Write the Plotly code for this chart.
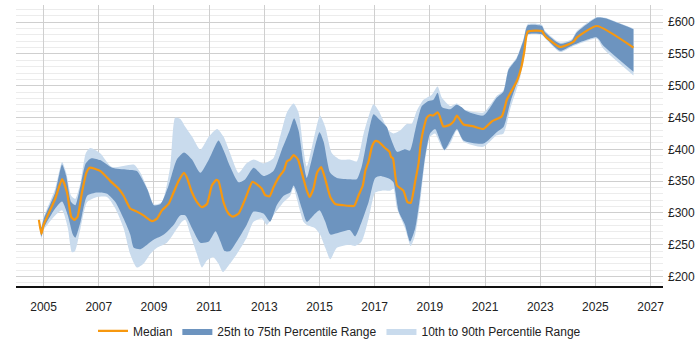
import plotly.graph_objects as go

MED_X = [2004.83, 2004.92, 2005.0, 2005.42, 2005.67, 2005.85, 2006.0, 2006.11, 2006.23, 2006.39,
         2006.55, 2006.67, 2007.05, 2007.42, 2007.72, 2007.90, 2008.14, 2008.38, 2008.62, 2008.93,
         2009.11, 2009.29, 2009.53, 2009.71, 2009.89, 2010.09, 2010.20, 2010.38, 2010.56, 2010.74,
         2010.92, 2011.10, 2011.26, 2011.34, 2011.52, 2011.70, 2011.85, 2012.07, 2012.31, 2012.57,
         2012.73, 2012.91, 2013.03, 2013.19, 2013.33, 2013.51, 2013.72, 2013.82, 2013.94, 2014.06,
         2014.22, 2014.36, 2014.52, 2014.64, 2014.78, 2014.91, 2015.06, 2015.21, 2015.39, 2015.57,
         2015.87, 2016.11, 2016.26, 2016.41, 2016.57, 2016.66, 2016.78, 2016.90, 2017.02, 2017.14,
         2017.38, 2017.54, 2017.59, 2017.66, 2017.81, 2018.04, 2018.19, 2018.31, 2018.47, 2018.59,
         2018.67, 2018.77, 2018.89, 2019.01, 2019.11, 2019.28, 2019.35, 2019.49, 2019.74, 2019.86,
         2019.98, 2020.10, 2020.22, 2020.58, 2020.94, 2021.25, 2021.61, 2021.79, 2022.15, 2022.33,
         2022.42, 2022.55, 2023.06, 2023.18, 2023.72, 2024.20, 2024.33, 2025.05, 2026.38]
MED_Y = [289, 267, 281, 322, 353, 332, 294, 289, 294, 332,
         363, 371, 366, 350, 338, 327, 307, 302, 296, 287,
         291, 304, 314, 332, 350, 363, 355, 332, 317, 309,
         314, 343, 352, 350, 317, 299, 294, 299, 322, 349,
         345, 338, 328, 326, 340, 355, 368, 381, 384, 391,
         384, 363, 338, 325, 338, 363, 372, 353, 325, 314,
         312, 311, 311, 327, 343, 366, 381, 404, 413, 412,
         402, 396, 388, 386, 343, 335, 317, 316, 350, 378,
         409, 432, 450, 454, 453, 458, 453, 436, 439, 444,
         453, 446, 439, 436, 432, 444, 452, 478, 507, 532,
         553, 585, 586, 578, 561, 569, 576, 594, 560]

P75_X = [2004.83, 2004.92, 2005.0, 2005.42, 2005.67, 2005.82, 2006.0, 2006.15, 2006.34, 2006.53,
         2006.73, 2007.05, 2007.48, 2008.03, 2008.38, 2008.75, 2009.0, 2009.24, 2009.53, 2009.83,
         2010.09, 2010.38, 2010.68, 2010.99, 2011.34, 2011.52, 2011.76, 2012.07, 2012.31, 2012.61,
         2012.97, 2013.33, 2013.63, 2013.92, 2014.08, 2014.24, 2014.42, 2014.54, 2014.72, 2015.0,
         2015.15, 2015.39, 2015.63, 2016.1, 2016.35, 2016.53, 2016.72, 2016.96, 2017.14, 2017.44,
         2017.56, 2017.81, 2018.10, 2018.28, 2018.47, 2018.71, 2018.95, 2019.13, 2019.28, 2019.44,
         2019.74, 2019.96, 2020.16, 2020.28, 2020.94, 2021.42, 2021.67, 2021.85, 2022.15, 2022.39,
         2022.55, 2023.06, 2023.18, 2023.72, 2024.14, 2024.33, 2025.05, 2025.35, 2026.38]
P75_Y = [290, 277, 290, 332, 376, 358, 317, 312, 343, 378,
         386, 383, 371, 368, 366, 338, 312, 314, 343, 384,
         395, 384, 363, 384, 414, 399, 373, 348, 353, 371,
         358, 366, 399, 430, 449, 430, 378, 355, 384, 427,
         412, 363, 355, 353, 353, 373, 414, 455, 448, 435,
         420, 396, 400, 398, 430, 468, 476, 478, 489, 466,
         463, 470, 466, 461, 453, 481, 491, 525, 543, 571,
         595, 594, 584, 566, 571, 584, 607, 606, 589]

P25_X = [2004.83, 2004.92, 2005.0, 2005.42, 2005.67, 2005.88, 2006.06, 2006.15, 2006.34, 2006.58,
         2006.94, 2007.30, 2007.60, 2007.90, 2008.14, 2008.27, 2008.51, 2008.75, 2009.0, 2009.36,
         2009.71, 2009.95, 2010.14, 2010.38, 2010.68, 2010.99, 2011.23, 2011.41, 2011.56, 2011.76,
         2012.0, 2012.36, 2012.61, 2012.97, 2013.21, 2013.45, 2013.70, 2013.94, 2014.06, 2014.18,
         2014.36, 2014.54, 2014.78, 2015.0, 2015.21, 2015.39, 2015.63, 2016.1, 2016.29, 2016.53,
         2016.78, 2017.02, 2017.20, 2017.56, 2017.68, 2017.87, 2018.10, 2018.28, 2018.47, 2018.65,
         2018.83, 2019.01, 2019.19, 2019.37, 2019.53, 2019.74, 2019.98, 2020.22, 2020.94, 2021.42,
         2021.67, 2021.91, 2022.27, 2022.45, 2022.55, 2023.06, 2023.24, 2023.72, 2024.14, 2025.05,
         2025.29, 2026.38]
P25_Y = [287, 263, 276, 307, 318, 296, 266, 261, 286, 327,
         332, 330, 317, 291, 266, 245, 243, 250, 258, 266,
         281, 296, 296, 276, 253, 255, 271, 255, 240, 240,
         255, 281, 302, 299, 286, 312, 327, 332, 343, 332,
         307, 286, 296, 304, 286, 266, 268, 273, 263, 286,
         317, 355, 358, 353, 348, 302, 281, 255, 276, 327,
         389, 425, 432, 414, 399, 414, 432, 414, 409, 427,
         435, 473, 520, 558, 581, 581, 573, 555, 563, 576,
         563, 522]

P90_X = [2004.83, 2004.92, 2005.0, 2005.42, 2005.67, 2005.82, 2006.0, 2006.15, 2006.34, 2006.53,
         2006.69, 2007.05, 2007.48, 2008.27, 2008.51, 2008.81, 2009.0, 2009.29, 2009.59, 2009.77,
         2009.95, 2010.14, 2010.38, 2010.68, 2010.99, 2011.29, 2011.52, 2011.76, 2012.07, 2012.36,
         2012.61, 2012.97, 2013.33, 2013.57, 2013.82, 2014.06, 2014.24, 2014.42, 2014.54, 2014.78,
         2015.02, 2015.21, 2015.45, 2015.75, 2016.1, 2016.35, 2016.60, 2016.96, 2017.14, 2017.50,
         2017.68, 2017.93, 2018.16, 2018.34, 2018.53, 2018.77, 2019.07, 2019.28, 2019.44, 2019.74,
         2019.98, 2020.22, 2020.94, 2021.42, 2021.67, 2021.85, 2022.15, 2022.39, 2022.55, 2023.06,
         2023.18, 2023.72, 2024.14, 2024.33, 2025.05, 2025.35, 2026.38]
P90_Y = [291, 279, 293, 338, 380, 363, 327, 322, 348, 394,
         402, 394, 372, 376, 363, 333, 313, 317, 373, 450,
         448, 435, 420, 399, 420, 432, 420, 394, 363, 378,
         384, 378, 386, 420, 458, 472, 458, 399, 373, 414,
         453, 435, 394, 384, 384, 381, 425, 471, 461, 430,
         425, 430, 440, 440, 461, 478, 486, 499, 481, 468,
         472, 463, 458, 484, 493, 527, 545, 573, 597, 596,
         586, 568, 573, 586, 608, 607, 590]

P10_X = [2004.83, 2004.92, 2005.0, 2005.42, 2005.67, 2005.88, 2006.03, 2006.14, 2006.34, 2006.58,
         2006.94, 2007.30, 2007.60, 2007.90, 2008.14, 2008.38, 2008.62, 2008.86, 2009.11, 2009.47,
         2009.77, 2010.01, 2010.14, 2010.32, 2010.56, 2010.74, 2010.92, 2011.16, 2011.34, 2011.50,
         2011.70, 2012.0, 2012.36, 2012.61, 2012.91, 2013.09, 2013.33, 2013.70, 2013.94, 2014.06,
         2014.18, 2014.42, 2014.54, 2014.84, 2015.02, 2015.21, 2015.39, 2015.63, 2016.1, 2016.29,
         2016.53, 2016.78, 2017.02, 2017.26, 2017.56, 2017.68, 2017.81, 2018.10, 2018.31, 2018.47,
         2018.65, 2018.83, 2019.01, 2019.19, 2019.37, 2019.53, 2019.74, 2019.98, 2020.22, 2020.94,
         2021.42, 2021.67, 2021.91, 2022.27, 2022.45, 2022.55, 2023.06, 2023.24, 2023.72, 2024.14,
         2025.05, 2025.29, 2026.38]
P10_Y = [286, 260, 273, 296, 304, 276, 238, 240, 276, 317,
         325, 325, 307, 276, 235, 214, 220, 235, 245, 253,
         271, 286, 289, 266, 235, 214, 225, 230, 220, 207,
         217, 235, 261, 286, 291, 281, 296, 317, 327, 340,
         322, 286, 281, 276, 266, 245, 227, 245, 250, 248,
         255, 291, 332, 335, 335, 338, 307, 276, 248, 266,
         317, 384, 420, 425, 409, 398, 409, 430, 412, 404,
         422, 425, 463, 512, 553, 580, 580, 572, 553, 561,
         574, 558, 516]

X_TICKS = [2005, 2007, 2009, 2011, 2013, 2015, 2017, 2019, 2021, 2023, 2025, 2027]
Y_TICKS = [200, 250, 300, 350, 400, 450, 500, 550, 600]

DARK = "#6d94bf"
LIGHT = "#c9dbed"
ORANGE = "#f7980f"
FONT = "Liberation Sans, Arial, sans-serif"
SMOOTH = dict(width=0, shape="spline", smoothing=0.6)

fig = go.Figure()

# 10th-90th band
fig.add_trace(go.Scatter(x=P90_X, y=P90_Y, mode="lines", line=SMOOTH,
                         showlegend=False, hoverinfo="skip"))
fig.add_trace(go.Scatter(x=P10_X, y=P10_Y, mode="lines", line=SMOOTH,
                         fill="tonexty", fillcolor=LIGHT,
                         name="10th to 90th Percentile Range", hoverinfo="skip", legendrank=3))
# 25th-75th band
fig.add_trace(go.Scatter(x=P75_X, y=P75_Y, mode="lines", line=SMOOTH,
                         showlegend=False, hoverinfo="skip"))
fig.add_trace(go.Scatter(x=P25_X, y=P25_Y, mode="lines", line=SMOOTH,
                         fill="tonexty", fillcolor=DARK,
                         name="25th to 75th Percentile Range", hoverinfo="skip", legendrank=2))

fig.add_trace(go.Scatter(
    x=MED_X, y=MED_Y, mode="lines",
    line=dict(color=ORANGE, width=2.2, shape="spline", smoothing=0.5),
    name="Median", legendrank=1))

fig.update_layout(
    width=700, height=350,
    margin=dict(l=16, r=37, t=5, b=58),
    paper_bgcolor="white", plot_bgcolor="white",
    font=dict(family=FONT, size=12, color="#222"),
    showlegend=True,
    legend=dict(orientation="h", x=0.5, xanchor="center", y=-0.16, yanchor="middle",
                font=dict(size=12, color="#222"), itemwidth=30, traceorder="normal"),
    xaxis=dict(range=[2004.0, 2027.45], tickmode="array", tickvals=X_TICKS,
               ticktext=[str(v) for v in X_TICKS],
               showgrid=True, gridcolor="#cfcfcf", gridwidth=1,
               showline=True, linecolor="#111", linewidth=1.5,
               zeroline=False, ticks="", ticklabelstandoff=9),
    yaxis=dict(range=[185, 627], side="right", tickmode="array", tickvals=Y_TICKS,
               ticktext=["£" + str(v) for v in Y_TICKS],
               showgrid=True, gridcolor="#cfcfcf", gridwidth=1,
               minor=dict(dtick=10, tick0=0, showgrid=True, gridcolor="#ececec", gridwidth=1),
               showline=False, zeroline=False, ticks="", ticklabelstandoff=4),
)

fig.write_html("out.html")
